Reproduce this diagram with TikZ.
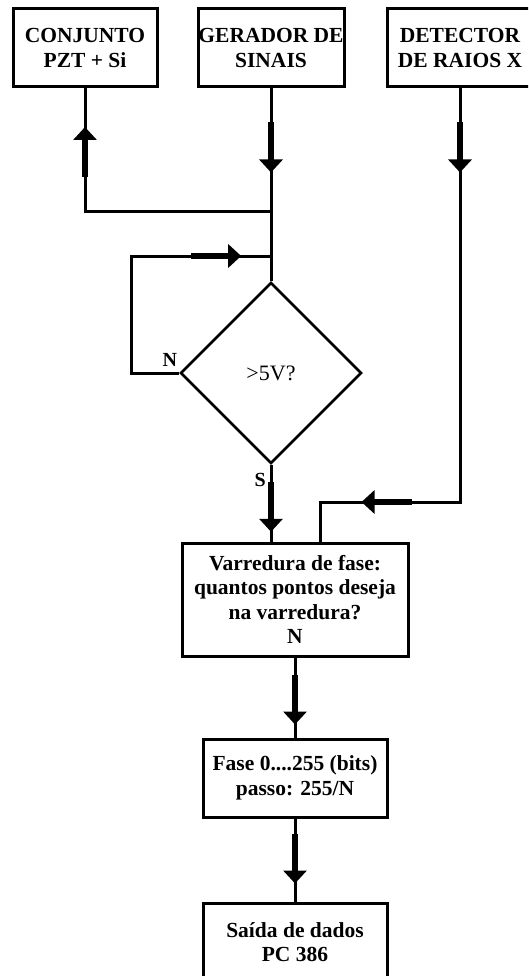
\documentclass[tikz,border=0pt]{standalone}
\usepackage{fontspec}
\setmainfont{Liberation Serif}
\usetikzlibrary{arrows.meta,shapes.geometric,decorations.markings}
\tikzset{
  block/.style={draw,line width=3pt,minimum width=146pt,minimum height=78pt,
    inner sep=0pt,align=center,font=\fontsize{21.5}{24.5}\selectfont\bfseries},
  decision/.style={draw,diamond,line width=2.6pt,minimum width=181pt,minimum height=181pt,
    inner sep=0pt,font=\fontsize{22}{24}\selectfont},
  tag/.style={inner sep=0pt,font=\fontsize{20}{24}\selectfont\bfseries},
  link/.style={line width=3pt},
  shaft/.style={line width=5.5pt,-{Triangle[length=13pt,width=23pt]}},
  flowmark/.style={postaction={decorate,decoration={markings,
    mark=at position #1 with {\draw[shaft] (-50,0) -- (0,0);}}}}
}

\begin{document}
\begin{tikzpicture}[x=1pt,y=-1pt]
  \path[use as bounding box,clip] (0,0) rectangle (528,976);
  % top row
  \node[block,minimum width=144pt] (conj) at (85,48) {CONJUNTO\\PZT + Si};
  \node[block] (gera) at (271,48) {GERADOR DE\\SINAIS};
  \node[block] (detec) at (460,48) {DETECTOR\\DE RAIOS X};
  % test and steps
  \node[decision] (test) at (271,373) {>5V?};
  \node[block,minimum width=226pt,minimum height=113pt] (varr) at (295,599.5)
    {Varredura de fase:\\quantos pontos deseja\\na varredura?\\N};
  \node[block,minimum width=184pt] (fase) at (295,778) {Fase 0....255 (bits)\\passo: 255/N};
  \node[block,minimum width=184pt] (saida) at (295,942) {Saída de dados\\PC 386};
  \node[tag,anchor=south east] (no) at ([xshift=-2pt,yshift=6pt]test.west) {N};
  \node[tag,anchor=north east] (yes) at ([xshift=-5pt,yshift=-8pt]test.south) {S};
  \coordinate (split) at (271,212);
  \coordinate (loop) at (271,256);
  \coordinate (bend) at (320,502);
  % connectors
  \draw[link,flowmark=84pt] (gera.south) -- (test.north);
  \draw[link,flowmark=271pt] (split) -| (conj.south);
  \draw[link,flowmark=275pt] (test.west) -- ++(-48,0) |- (loop);
  \draw[link,flowmark=67pt] (test.south) -- (test.south |- varr.north);
  \draw[link,flowmark=84pt,flowmark=512pt] (detec.south) |- (bend) -- (bend |- varr.north);
  \draw[link,flowmark=67pt] (varr.south) -- (fase.north);
  \draw[link,flowmark=65pt] (fase.south) -- (saida.north);
\end{tikzpicture}
\end{document}
